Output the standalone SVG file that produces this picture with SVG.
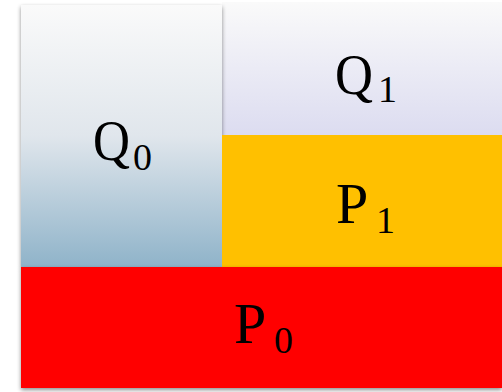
<svg xmlns="http://www.w3.org/2000/svg" width="502" height="392" viewBox="0 0 502 392">
<defs>
<linearGradient id="gq0" x1="0" y1="0" x2="0" y2="1">
<stop offset="0" stop-color="#fafafa"/>
<stop offset="0.5" stop-color="#e0e6ec"/>
<stop offset="1" stop-color="#8fb3c9"/>
</linearGradient>
<linearGradient id="gq1" x1="0" y1="0" x2="0" y2="1">
<stop offset="0" stop-color="#fafafa"/>
<stop offset="1" stop-color="#dcdcf0"/>
</linearGradient>
<filter id="sh" x="-10%" y="-10%" width="120%" height="120%">
<feGaussianBlur in="SourceAlpha" stdDeviation="2"/>
<feOffset dx="0" dy="2" result="b"/>
<feFlood flood-color="#000" flood-opacity="0.45"/>
<feComposite in2="b" operator="in"/>
<feMerge><feMergeNode/><feMergeNode in="SourceGraphic"/></feMerge>
</filter>
</defs>
<style>
.lbl{font-family:"Liberation Serif","DejaVu Serif",serif;fill:#000}
.big{font-size:58px}
.sub{font-size:38px}
</style>
<rect width="502" height="392" fill="#fff"/>
<g id="Q1">
<rect x="222" y="2" width="280" height="133" fill="url(#gq1)"/>
<text class="lbl big" x="335" y="94" textLength="38" lengthAdjust="spacingAndGlyphs">Q</text>
<text class="lbl sub" x="378" y="102">1</text>
</g>
<g id="Q0">
<rect x="21" y="5" width="201" height="262" fill="url(#gq0)" filter="url(#sh)"/>
<text class="lbl big" x="93" y="160" textLength="37" lengthAdjust="spacingAndGlyphs">Q</text>
<text class="lbl sub" x="133" y="170">0</text>
</g>
<g id="P1">
<rect x="222" y="135" width="280" height="132" fill="#ffc000"/>
<text class="lbl big" x="336" y="223">P</text>
<text class="lbl sub" x="376" y="233">1</text>
</g>
<g id="P0">
<rect x="21" y="267" width="481" height="121" fill="#ff0000" filter="url(#sh)"/>
<text class="lbl big" x="234" y="343">P</text>
<text class="lbl sub" x="274" y="353">0</text>
</g>
<g id="connectors"/>
</svg>
